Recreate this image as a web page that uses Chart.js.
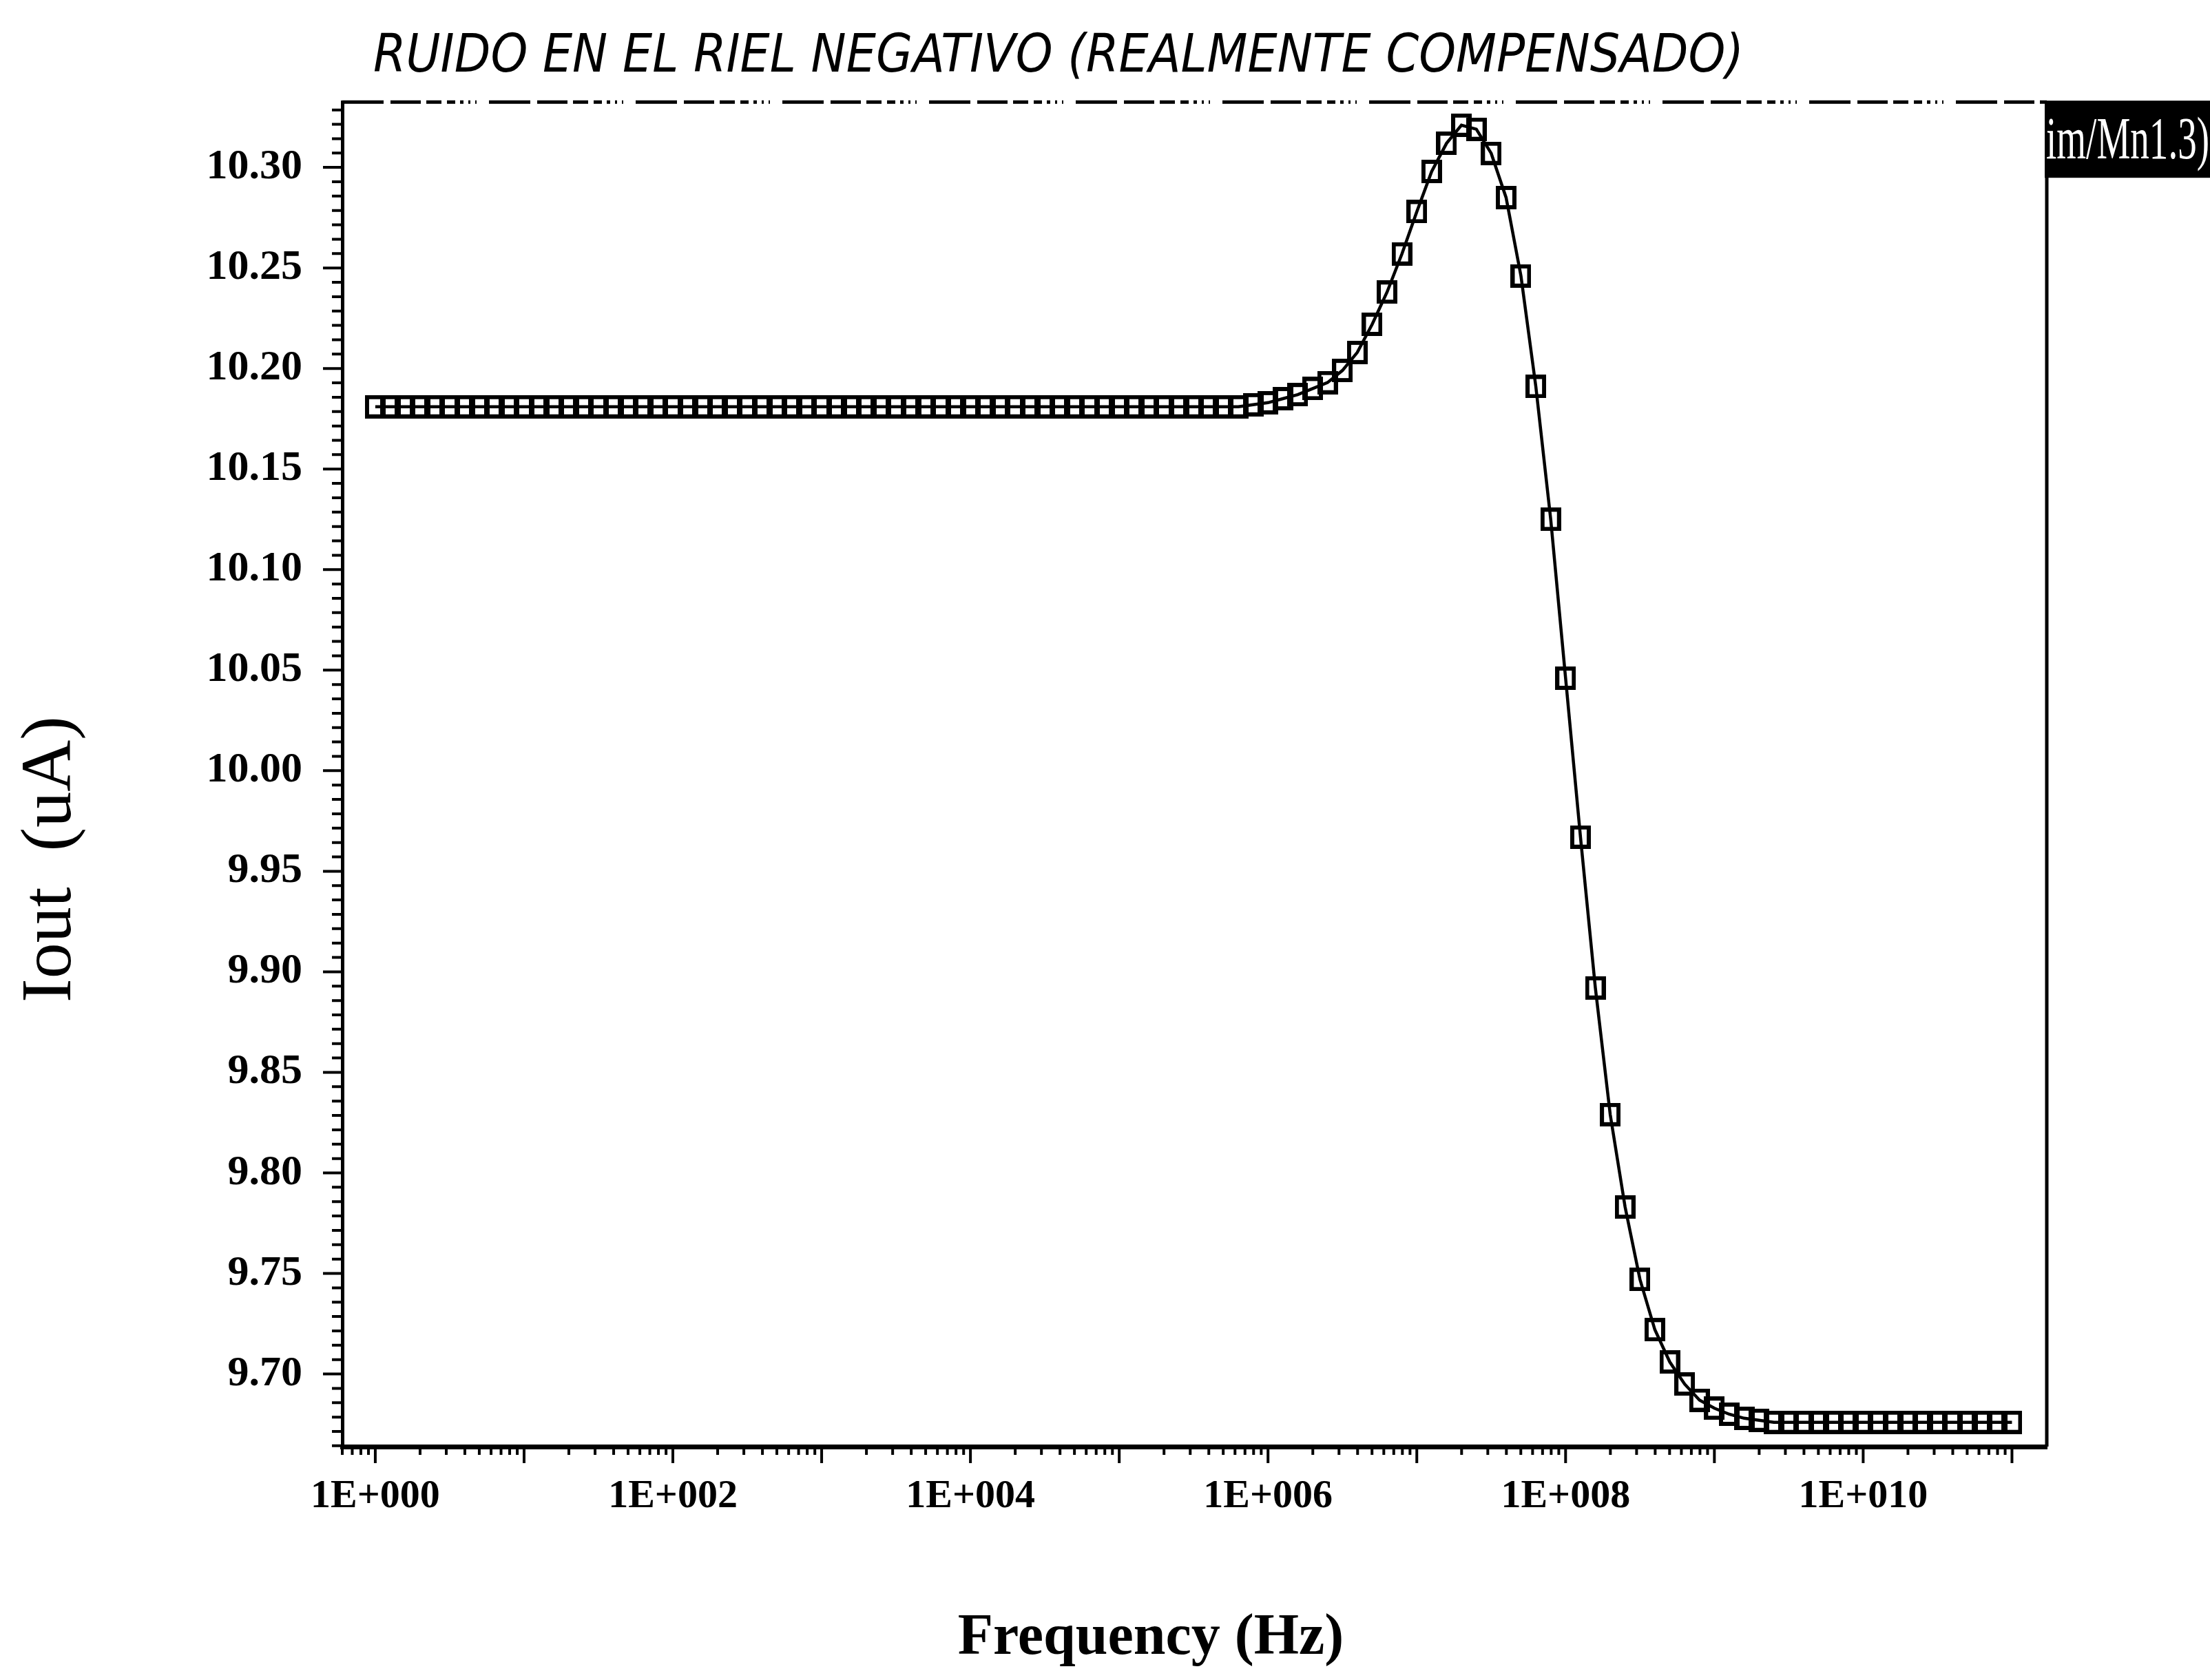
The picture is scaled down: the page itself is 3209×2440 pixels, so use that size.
<!DOCTYPE html>
<html><head><meta charset="utf-8">
<script src="https://cdn.jsdelivr.net/npm/chart.js@4.4.1/dist/chart.umd.min.js"></script>
<style>html,body{margin:0;padding:0;background:#fff;} #wrap{width:3209px;height:2440px;position:relative;}</style>
</head><body><div id="wrap"><canvas id="c" width="3209" height="2440"></canvas></div>
<script>
const chartTitle = 'RUIDO EN EL RIEL NEGATIVO (REALMENTE COMPENSADO)';
const xAxisTitle = 'Frequency (Hz)';
const yAxisTitle = 'Iout  (uA)';
const seriesLabel = 'im/Mn1.3)';

const freqHz = [
 1e0,1.259e0,1.585e0,1.995e0,2.512e0,3.162e0,3.981e0,5.012e0,6.31e0,7.943e0,
 1e1,1.259e1,1.585e1,1.995e1,2.512e1,3.162e1,3.981e1,5.012e1,6.31e1,7.943e1,
 1e2,1.259e2,1.585e2,1.995e2,2.512e2,3.162e2,3.981e2,5.012e2,6.31e2,7.943e2,
 1e3,1.259e3,1.585e3,1.995e3,2.512e3,3.162e3,3.981e3,5.012e3,6.31e3,7.943e3,
 1e4,1.259e4,1.585e4,1.995e4,2.512e4,3.162e4,3.981e4,5.012e4,6.31e4,7.943e4,
 1e5,1.259e5,1.585e5,1.995e5,2.512e5,3.162e5,3.981e5,5.012e5,6.31e5,7.943e5,
 1e6,1.259e6,1.585e6,1.995e6,2.512e6,3.162e6,3.981e6,5.012e6,6.31e6,7.943e6,
 1e7,1.259e7,1.585e7,1.995e7,2.512e7,3.162e7,3.981e7,5.012e7,6.31e7,7.943e7,
 1e8,1.259e8,1.585e8,1.995e8,2.512e8,3.162e8,3.981e8,5.012e8,6.31e8,7.943e8,
 1e9,1.259e9,1.585e9,1.995e9,2.512e9,3.162e9,3.981e9,5.012e9,6.31e9,7.943e9,
 1e10,1.259e10,1.585e10,1.995e10,2.512e10,3.162e10,3.981e10,5.012e10,6.31e10,7.943e10,
 1e11
];

const ioutUA = [
 10.181,10.181,10.181,10.181,10.181,10.181,10.181,10.181,10.181,10.181,
 10.181,10.181,10.181,10.181,10.181,10.181,10.181,10.181,10.181,10.181,
 10.181,10.181,10.181,10.181,10.181,10.181,10.181,10.181,10.181,10.181,
 10.181,10.181,10.181,10.181,10.181,10.181,10.181,10.181,10.181,10.181,
 10.181,10.181,10.181,10.181,10.181,10.181,10.181,10.181,10.181,10.181,
 10.181,10.181,10.181,10.181,10.181,10.181,10.181,10.181,10.181,10.182,
 10.183,10.185,10.187,10.190,10.193,10.199,10.208,10.222,10.238,10.257,
 10.278,10.298,10.312,10.321,10.319,10.307,10.285,10.246,10.191,10.125,
 10.046,9.967,9.892,9.829,9.783,9.747,9.722,9.706,9.695,9.687,
 9.683,9.680,9.678,9.677,9.676,9.676,9.676,9.676,9.676,9.676,
 9.676,9.676,9.676,9.676,9.676,9.676,9.676,9.676,9.676,9.676,
 9.676
];

const xTickValues = [1e0,1e2,1e4,1e6,1e8,1e10];
const xTickLabels = ['1E+000','1E+002','1E+004','1E+006','1E+008','1E+010'];
const yTickValues = [9.70,9.75,9.80,9.85,9.90,9.95,10.00,10.05,10.10,10.15,10.20,10.25,10.30];
const yTickLabels = ['9.70','9.75','9.80','9.85','9.90','9.95','10.00','10.05','10.10','10.15','10.20','10.25','10.30'];

const xMin = 0.6263, xMax = 1.714e11;
const yMin = 9.6639, yMax = 10.3325;
const yMinorPerMajor = 7;

// title font sizing
const titleFamily = "'Liberation Sans Narrow', 'DejaVu Sans Condensed', 'Liberation Sans', sans-serif";
const mctx = document.createElement('canvas').getContext('2d');
mctx.font = `italic 92px ${titleFamily}`;
const tw = mctx.measureText(chartTitle).width;
const titleSize = Math.min(92, Math.floor(92 * 2000 / tw));
const titleLH = Math.round(titleSize * 1.2);
const titlePadTop = Math.round(84 - titleLH / 2);
const titlePadBottom = 148 - titlePadTop - titleLH;

function makeMarker(w, h, lw) {
  const c = document.createElement('canvas');
  c.width = w; c.height = h;
  const g = c.getContext('2d');
  g.strokeStyle = '#000';
  g.lineWidth = lw;
  g.strokeRect(lw / 2, lw / 2, w - lw, h - lw);
  return c;
}
const marker = makeMarker(30, 34, 6);

const framePlugin = {
  id: 'frame',
  afterDraw(chart) {
    const {ctx, chartArea: a, scales: {x, y}} = chart;
    ctx.save();
    ctx.strokeStyle = '#000';
    ctx.lineCap = 'butt';
    // y ticks (major + minor)
    ctx.lineWidth = 4;
    ctx.beginPath();
    const step = 0.05 / yMinorPerMajor;
    for (let i = -20; i <= 120; i++) {
      const v = yTickValues[0] + i * step;
      if (v < y.min || v > y.max) continue;
      const p = y.getPixelForValue(v);
      const len = (i % yMinorPerMajor === 0) ? 28 : 15;
      ctx.moveTo(a.left, p); ctx.lineTo(a.left - len, p);
    }
    ctx.stroke();
    // x ticks (decades + log minors)
    ctx.beginPath();
    for (let d = -1; d <= 11; d++) {
      for (let m = 1; m <= 9; m++) {
        const v = m * Math.pow(10, d);
        if (v < x.min || v > x.max) continue;
        const p = x.getPixelForValue(v);
        const len = m === 1 ? 24 : 12;
        ctx.moveTo(p, a.bottom); ctx.lineTo(p, a.bottom + len);
      }
    }
    ctx.stroke();
    // top dashed border
    ctx.lineWidth = 5;
    ctx.setLineDash([60, 10, 44, 8, 22, 8, 12, 7, 5, 7, 3, 7, 2, 18]);
    ctx.beginPath();
    ctx.moveTo(a.left, a.top); ctx.lineTo(a.right, a.top);
    ctx.stroke();
    ctx.setLineDash([]);
    // right border
    ctx.beginPath();
    ctx.moveTo(a.right, a.top); ctx.lineTo(a.right, a.bottom);
    ctx.stroke();
    // axis titles
    ctx.fillStyle = '#000';
    ctx.textAlign = 'center';
    ctx.textBaseline = 'middle';
    ctx.font = "bold 84px 'Liberation Serif', serif";
    ctx.fillText(xAxisTitle, 1671, 2380);
    ctx.save();
    ctx.translate(75, 1248);
    ctx.rotate(-Math.PI / 2);
    ctx.font = "104px 'Liberation Serif', serif";
    ctx.fillText(yAxisTitle, 0, 0);
    ctx.restore();
    // black label box at top right
    const bx = a.right - 3, by = a.top - 2, bw = chart.width - bx, bh = 112;
    ctx.fillStyle = '#000';
    ctx.fillRect(bx, by, bw, bh);
    ctx.beginPath(); ctx.rect(bx, by, bw, bh); ctx.clip();
    ctx.fillStyle = '#fff';
    ctx.textAlign = 'left';
    ctx.textBaseline = 'alphabetic';
    ctx.font = "86px 'Liberation Serif', serif";
    ctx.translate(bx + 2, by + 84);
    ctx.scale(0.64, 1);
    ctx.fillText(seriesLabel, 0, 0);
    ctx.restore();
  }
};

new Chart(document.getElementById('c'), {
  type: 'line',
  data: {
    datasets: [{
      label: seriesLabel,
      data: freqHz.map((f, i) => ({x: f, y: ioutUA[i]})),
      borderColor: '#000',
      borderWidth: 4.5,
      tension: 0,
      pointStyle: marker,
      pointRadius: 15,
      pointBorderColor: '#000',
      pointBackgroundColor: 'rgba(0,0,0,0)',
      fill: false
    }]
  },
  options: {
    responsive: false,
    devicePixelRatio: 1,
    animation: false,
    events: [],
    layout: {padding: {left: 102, right: 237, top: 0, bottom: 0}},
    plugins: {
      legend: {display: false},
      tooltip: {enabled: false},
      title: {
        display: true,
        text: chartTitle,
        align: 'center',
        color: '#000',
        font: {family: titleFamily, style: 'italic', weight: 'normal', size: titleSize, lineHeight: 1.2},
        padding: {top: titlePadTop, bottom: titlePadBottom}
      }
    },
    scales: {
      x: {
        type: 'logarithmic',
        min: xMin, max: xMax,
        afterFit(scale) { scale.height = 339; },
        afterBuildTicks(scale) { scale.ticks = xTickValues.map(v => ({value: v})); },
        grid: {display: true, drawOnChartArea: false, drawTicks: false},
        border: {display: true, color: '#000', width: 7},
        ticks: {
          autoSkip: false, maxRotation: 0, minRotation: 0,
          padding: 38, color: '#000',
          font: {family: "'Liberation Serif', serif", weight: 'bold', size: 58, lineHeight: 1.2},
          callback: (v, i) => xTickLabels[i]
        },
        title: {display: false, text: xAxisTitle}
      },
      y: {
        type: 'linear',
        min: yMin, max: yMax,
        afterFit(scale) { scale.width = 395; },
        afterBuildTicks(scale) { scale.ticks = yTickValues.map(v => ({value: v})); },
        grid: {display: true, drawOnChartArea: false, drawTicks: false},
        border: {display: true, color: '#000', width: 5},
        ticks: {
          padding: 58, color: '#000',
          font: {family: "'Liberation Serif', serif", weight: 'bold', size: 62, lineHeight: 1.2},
          callback: (v, i) => yTickLabels[i]
        },
        title: {display: false, text: yAxisTitle}
      }
    }
  },
  plugins: [framePlugin]
});
</script>
</body></html>
